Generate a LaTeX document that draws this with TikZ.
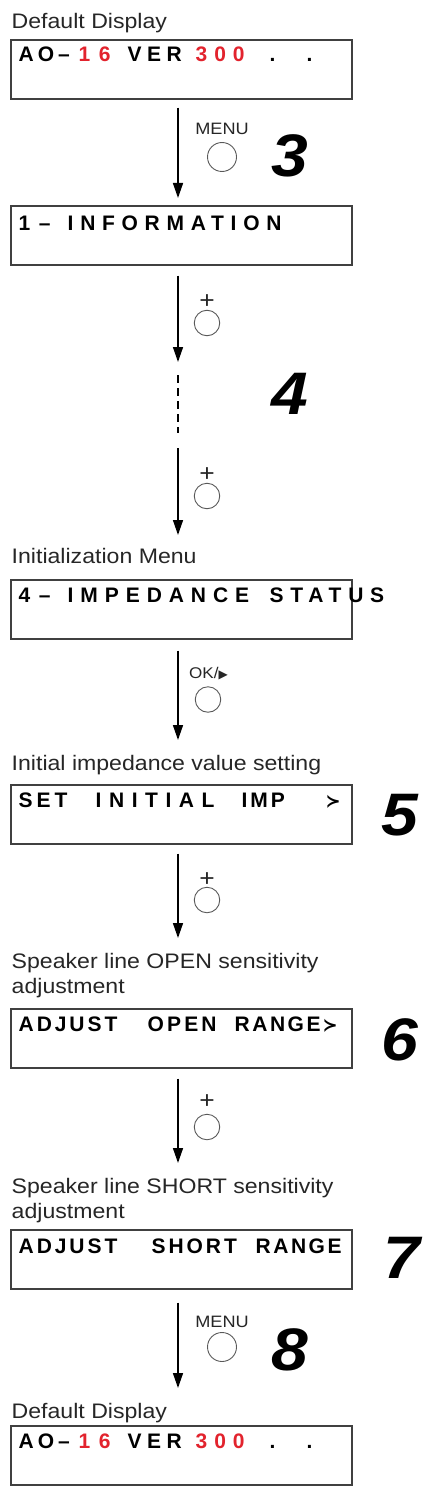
\documentclass[tikz,border=0pt]{standalone}
\usepackage{fontspec}
\usepackage{xcolor}
\usepackage{tikz}
\usetikzlibrary{arrows.meta,positioning,calc}
\setmainfont{Liberation Sans}[FakeStretch=1.1]
\newfontfamily\lcdfont{Liberation Sans}
\newfontfamily\symfont{DejaVu Sans}
\definecolor{lcdred}{RGB}{226,35,45}
% one word of the display: box width, letter spacing, text
\newcommand{\seg}[3]{\makebox[#1pt][l]{\addfontfeature{LetterSpace=#2}#3}}
\newcommand{\more}{{\symfont\bfseries\fontsize{18}{18}\selectfont ≻}}
\newcommand{\aoline}{\seg{60}{19}{AO–}\seg{49}{40}{\color{lcdred}16}\seg{68}{26}{VER}\seg{74}{33}{\color{lcdred}300}\seg{37}{0}{.}.}

\begin{document}
\begin{tikzpicture}[x=1pt,y=-1pt,
    lcdbox/.style={draw=black!75,line width=1.6pt,minimum width=341pt,minimum height=59pt,inner sep=0pt,anchor=north west},
    lcdtext/.style={anchor=base west,inner sep=0pt,font=\lcdfont\bfseries\fontsize{21}{21}\selectfont},
    caption/.style={anchor=north west,inner sep=0pt,align=left,text=black!85,font=\fontsize{21}{25}\selectfont},
    flow/.style={line width=1.5pt,-{Triangle[length=15pt,width=10pt]}},
    btn/.style={circle,draw=black!65,line width=0.9pt,minimum size=25.5pt,inner sep=0pt},
    btnlabel/.style={anchor=base,inner sep=0pt,text=black!85,font=\fontsize{16.5}{16.5}\selectfont},
    stepno/.style={anchor=base west,inner sep=0pt,font=\bfseries\itshape\fontsize{60}{60}\selectfont}]
    \useasboundingbox (0,0) rectangle (424,1490);
    \coordinate (col) at (178,0);

    % captions
    \node[caption] (cap1) at (11.5,13) {Default Display};
    \node[caption] (cap3) at (11.5,548) {Initialization Menu};
    \node[caption] (cap4) at (11.5,755) {Initial impedance value setting};
    \node[caption] (cap5) at (11.5,953) {Speaker line OPEN sensitivity\\adjustment};
    \node[caption] (cap6) at (11.5,1178) {Speaker line SHORT sensitivity\\adjustment};
    \node[caption] (cap7) at (11.5,1403) {Default Display};

    % displays
    \node[lcdbox] (disp1) at (10,39) {};
    \node[lcdbox] (info) at (10,205) {};
    \node[lcdbox] (imp) at (10,579) {};
    \node[lcdbox] (initimp) at (10,784) {};
    \node[lcdbox] (openadj) at (10,1008) {};
    \node[lcdbox] (shortadj) at (10,1229) {};
    \node[lcdbox] (disp2) at (10,1425) {};

    \node[lcdtext] (disp1txt) at ([shift={(8.5,23)}]disp1.north west) {\aoline};
    \node[lcdtext] (infotxt) at ([shift={(8.5,25)}]info.north west) {\seg{49}{40}{1–}\seg{215}{32}{INFORMATION}};
    \node[lcdtext] (imptxt) at ([shift={(8.5,23)}]imp.north west) {\seg{49}{40}{4–}\seg{202}{33}{IMPEDANCE}\seg{120}{32}{STATUS}};
    \node[lcdtext] (initimptxt) at ([shift={(8.5,23)}]initimp.north west) {\seg{77}{19}{SET}\seg{146}{36}{INITIAL}\seg{84}{14}{IMP}\more};
    \node[lcdtext] (openadjtxt) at ([shift={(8.5,23)}]openadj.north west) {\seg{129}{14}{ADJUST}\seg{87}{15}{OPEN}\seg{88}{12}{RANGE}\more};
    \node[lcdtext] (shortadjtxt) at ([shift={(8.5,24)}]shortadj.north west) {\seg{133}{14}{ADJUST}\seg{104}{14}{SHORT}\seg{90}{12}{RANGE}};
    \node[lcdtext] (disp2txt) at ([shift={(8.5,23)}]disp2.north west) {\aoline};

    % buttons
    \node[btn,minimum size=29pt] (menu1) at (222,157) {};
    \node[btnlabel] (menu1lbl) at (222,135) {MENU};
    \node[btn] (plus1) at (207,323) {};
    \node[btnlabel,font=\fontsize{24}{24}\selectfont] (plus1lbl) at (207,308) {+};
    \node[btn] (plus2) at (207,496) {};
    \node[btnlabel,font=\fontsize{24}{24}\selectfont] (plus2lbl) at (207,481) {+};
    \node[btn] (okbtn) at (208,699.5) {};
    \node[btnlabel,font=\fontsize{15.5}{15.5}\selectfont] (oklbl) at (208.5,678) {OK/{\symfont\fontsize{12}{12}\selectfont ▶}};
    \node[btn] (plus3) at (207,900) {};
    \node[btnlabel,font=\fontsize{24}{24}\selectfont] (plus3lbl) at (207,886) {+};
    \node[btn] (plus4) at (207,1127) {};
    \node[btnlabel,font=\fontsize{24}{24}\selectfont] (plus4lbl) at (207,1108) {+};
    \node[btn,minimum size=29pt] (menu2) at (222,1347) {};
    \node[btnlabel] (menu2lbl) at (222,1327) {MENU};

    % step numbers
    \node[stepno] (s3) at (271,177) {3};
    \node[stepno] (s4) at (271,414) {4};
    \node[stepno] (s5) at (381,835) {5};
    \node[stepno] (s6) at (381,1060) {6};
    \node[stepno] (s7) at (383,1278) {7};
    \node[stepno] (s8) at (271,1370) {8};

    % arrows
    \coordinate (dashtop) at (178,375);
    \coordinate (dashbot) at (178,433);
    \draw[flow,shorten <=8pt,shorten >=7pt] (disp1.south -| col) -- (info.north -| col);
    \draw[flow,shorten <=10pt,shorten >=13pt] (info.south -| col) -- (dashtop);
    \draw[line width=1.3pt,dash pattern=on 8pt off 5pt] (dashtop) -- (dashbot);
    \draw[flow,shorten <=15pt,shorten >=13pt] (dashbot) -- (cap3.north -| col);
    \draw[flow,shorten <=11pt,shorten >=15pt] (imp.south -| col) -- (cap4.north -| col);
    \draw[flow,shorten <=9pt,shorten >=15pt] (initimp.south -| col) -- (cap5.north -| col);
    \draw[flow,shorten <=10pt,shorten >=15pt] (openadj.south -| col) -- (cap6.north -| col);
    \draw[flow,shorten <=13pt,shorten >=15pt] (shortadj.south -| col) -- (cap7.north -| col);
\end{tikzpicture}
\end{document}
